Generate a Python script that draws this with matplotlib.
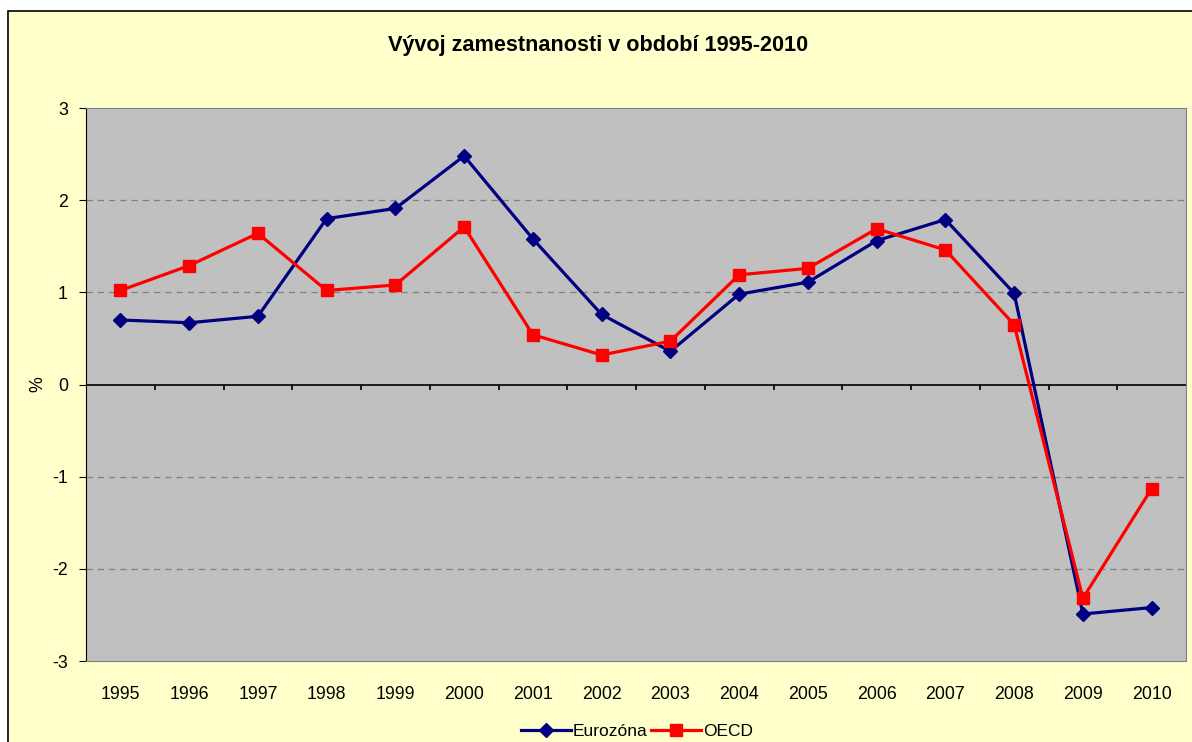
import numpy as np
import matplotlib.pyplot as plt
from matplotlib.patches import Rectangle

plt.rcParams['font.family'] = ['Liberation Sans', 'DejaVu Sans']

years = ['1995', '1996', '1997', '1998', '1999', '2000', '2001', '2002',
         '2003', '2004', '2005', '2006', '2007', '2008', '2009', '2010']
eurozona = [0.70, 0.67, 0.74, 1.80, 1.91, 2.48, 1.58, 0.76,
            0.36, 0.98, 1.11, 1.56, 1.79, 0.99, -2.49, -2.42]
oecd = [1.02, 1.29, 1.64, 1.02, 1.08, 1.71, 0.54, 0.32,
        0.47, 1.19, 1.26, 1.69, 1.46, 0.65, -2.32, -1.13]

fig = plt.figure(figsize=(11.92, 7.42), dpi=100)
fig.patch.set_facecolor('white')
# chart area with black border (cut off at right and bottom)
fig.patches.append(Rectangle((8/1192, -0.05), 1.1, 1 - 11/742 + 0.05,
                             transform=fig.transFigure, facecolor='#FFFFCC',
                             edgecolor='black', linewidth=1.2, zorder=-5))

ax = fig.add_axes([86/1192, 1 - 661/742, 1100/1192, 553/742])
ax.set_zorder(5)
ax.set_facecolor('#C0C0C0')
x = np.arange(len(years))

for s in ['top', 'right', 'bottom']:
    ax.spines[s].set_color('#808080')
ax.spines['left'].set_color('black')

ax.set_ylim(-3, 3)
ax.set_xlim(-0.5, len(years) - 0.5)
ax.set_yticks([-3, -2, -1, 0, 1, 2, 3])
ax.set_yticklabels(['-3', '-2', '-1', '0', '1', '2', '3'], fontsize=12.8)
ax.tick_params(axis='y', direction='out', length=5, pad=8)
for g in [-2, -1, 1, 2]:
    ax.axhline(g, color='#808080', linestyle=(0, (5, 4)), linewidth=0.9, zorder=1)

ax.set_xticks(x)
ax.set_xticklabels(years, fontsize=12.8)
ax.tick_params(axis='x', length=0, pad=18)

# zero line with tick marks between categories
ax.axhline(0, color='black', linewidth=1.2, zorder=2)
bounds = np.arange(len(years) + 1) - 0.5
ax.vlines(bounds[1:-1], -0.06, 0, color='black', linewidth=1.2, zorder=2)

ax.plot(x, eurozona, color='#000080', linewidth=2.3, marker='D',
        markersize=7, label='Eurozóna', zorder=3)
ax.plot(x, oecd, color='#FF0000', linewidth=2.3, marker='s',
        markersize=9, label='OECD', zorder=4)

fig.text(38/1192, 1 - 384/742, '%', rotation=90, ha='center', va='center',
         fontsize=12.8)
fig.text(598/1192, 1 - 45/742, 'Vývoj zamestnanosti v období 1995-2010',
         ha='center', va='center', fontsize=15.6, fontweight='bold')

fig.legend(loc='center', bbox_to_anchor=(637/1192, 1 - 731/742), ncol=2,
           frameon=False, fontsize=12.5, handlelength=2.9, columnspacing=0.2,
           handletextpad=0.1)

fig.savefig('out.png', dpi=100)
